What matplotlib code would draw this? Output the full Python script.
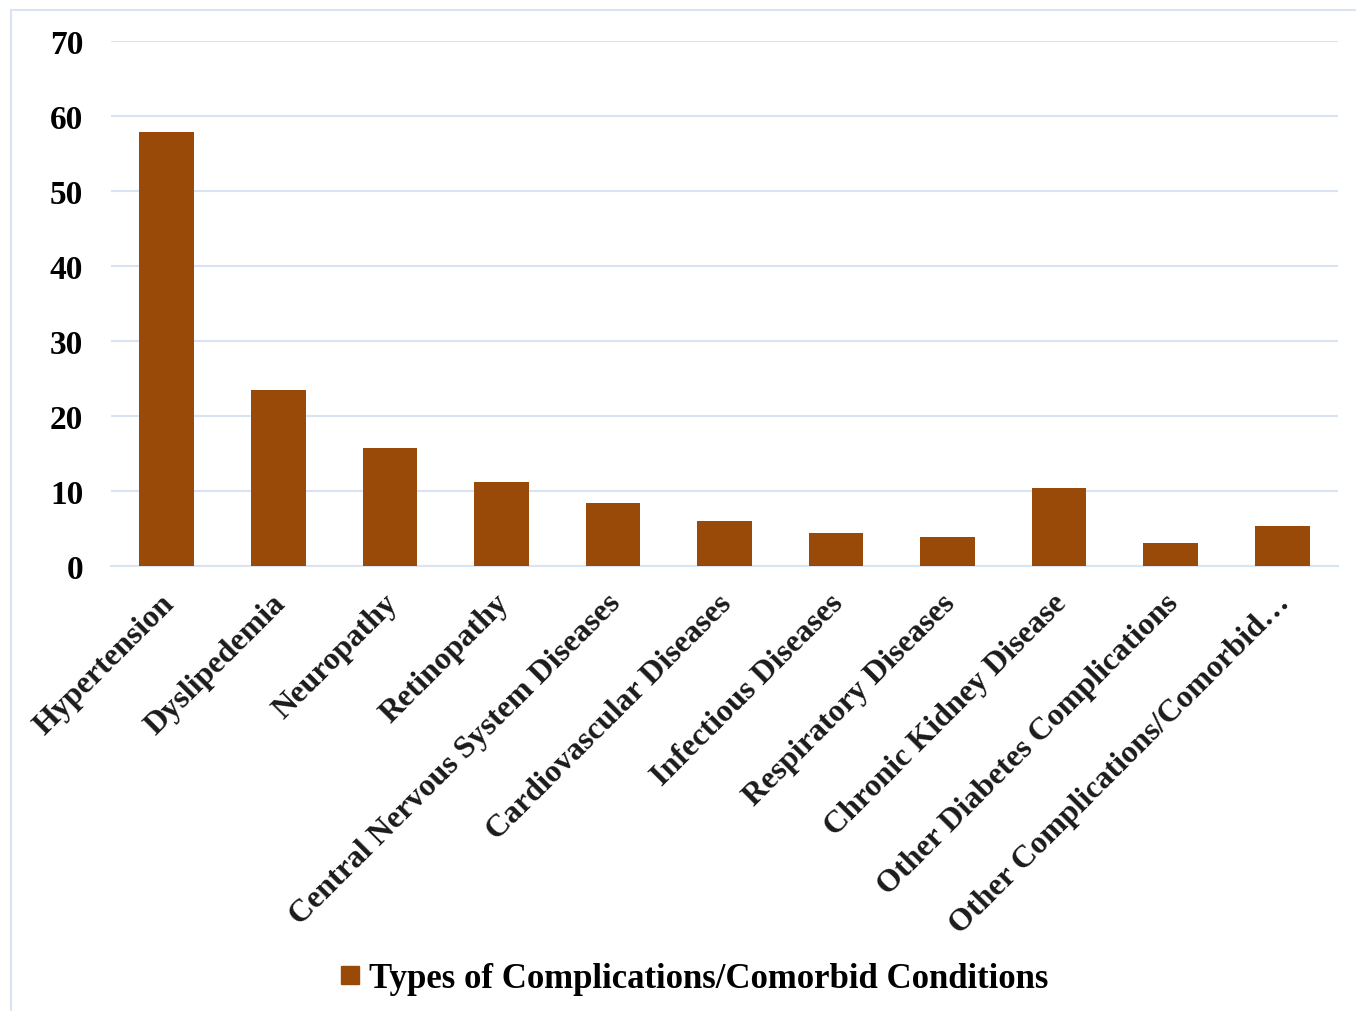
import matplotlib.pyplot as plt
import matplotlib.transforms as mtransforms
from matplotlib.lines import Line2D
import numpy as np

# Chart data
categories = ["Hypertension", "Dyslipedemia", "Neuropathy", "Retinopathy",
              "Central Nervous System Diseases", "Cardiovascular Diseases",
              "Infectious Diseases", "Respiratory Diseases", "Chronic Kidney Disease",
              "Other Diabetes Complications", "Other Complications/Comorbid\u2026"]
values = [57.9, 23.5, 15.7, 11.2, 8.4, 6.0, 4.4, 3.9, 10.4, 3.1, 5.3]
yticks = [0, 10, 20, 30, 40, 50, 60, 70]
series_name = "Types of Complications/Comorbid Conditions"

bar_color = "#994a08"
grid_color = "#d9e3f1"

plt.rcParams['font.family'] = ['Liberation Serif', 'DejaVu Serif']
plt.rcParams['font.weight'] = 'bold'

fig = plt.figure(figsize=(13.56, 10.12), dpi=100)
W, H = 1356, 1012
ax = fig.add_axes([111 / W, 1 - 567 / H, (1338 - 111) / W, (567 - 42) / H])

x = np.arange(len(categories))
ax.bar(x, values, width=0.49, color=bar_color, zorder=3)

ax.set_xlim(-0.5, len(categories) - 0.5)
ax.set_ylim(0, 70)
ax.set_yticks(yticks)
ax.set_yticklabels([str(v) for v in yticks], fontsize=24, fontweight='bold')
ax.tick_params(axis='y', length=0, pad=20)
ax.tick_params(axis='x', length=0, pad=16)
ax.set_xticks(x)
ax.set_xticklabels(categories, rotation=45, ha='right', rotation_mode='anchor',
                   fontsize=23, fontweight='bold', color='#1a1a1a')
shift = mtransforms.ScaledTranslation(-7 / 100, 0, fig.dpi_scale_trans)
for lab in ax.get_xticklabels():
    lab.set_transform(lab.get_transform() + shift)

ax.grid(axis='y', color=grid_color, linewidth=1.5, zorder=0)
for s in ['top', 'right', 'left']:
    ax.spines[s].set_visible(False)
ax.spines['bottom'].set_color(grid_color)
ax.spines['bottom'].set_linewidth(1.5)

# legend
handle = Line2D([], [], marker='s', linestyle='none', color=bar_color, markersize=13)
fig.legend([handle], [series_name], loc='center', bbox_to_anchor=(693 / W, 1 - 980 / H),
           frameon=False, prop={'family': 'Liberation Serif', 'weight': 'bold', 'size': 25},
           handlelength=0.7, handletextpad=0.2, borderaxespad=0)

# outer chart border (left and top visible)
fig.add_artist(Line2D([11 / W, 11 / W], [0, 1 - 11 / H], color=grid_color, linewidth=1.5))
fig.add_artist(Line2D([11 / W, 1], [1 - 11 / H, 1 - 11 / H], color=grid_color, linewidth=1.5))

fig.savefig("out.png", dpi=100)
